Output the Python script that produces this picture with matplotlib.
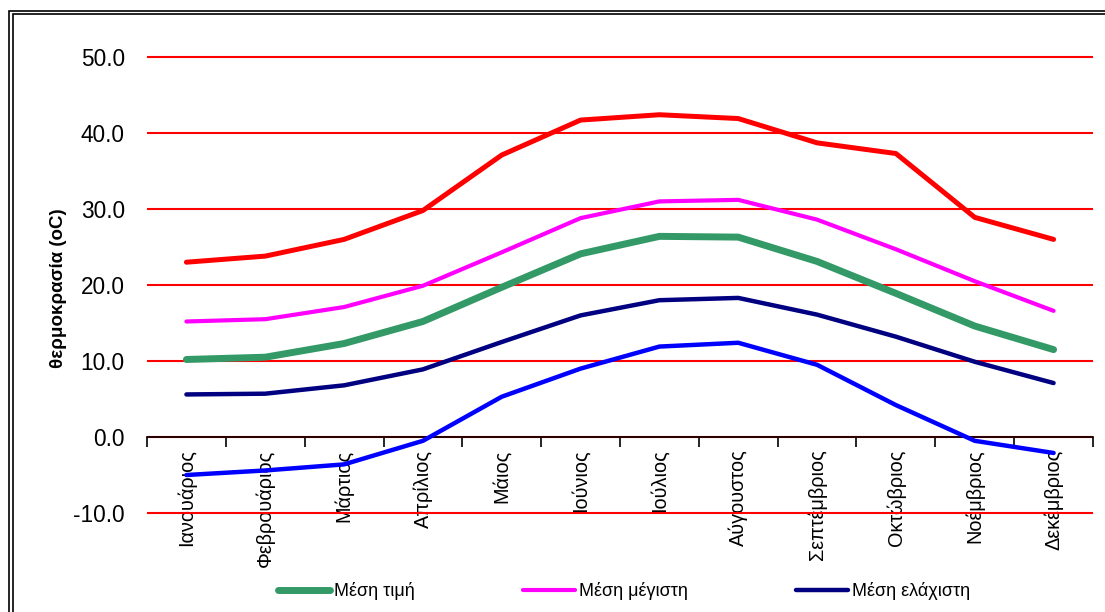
import matplotlib.pyplot as plt
import matplotlib.patches as patches
from matplotlib.ticker import FixedLocator

plt.rcParams['font.family'] = ['Liberation Sans', 'DejaVu Sans']

# μήνες
months = ['Ιανουάριος', 'Φεβρουάριος', 'Μάρτιος', 'Απρίλιος', 'Μάιος', 'Ιούνιος',
          'Ιούλιος', 'Αύγουστος', 'Σεπτέμβριος', 'Οκτώβριος', 'Νοέμβριος', 'Δεκέμβριος']

# θερμοκρασίες (oC)
apolyti_megisti = [23.0, 23.8, 26.0, 29.8, 37.1, 41.7, 42.4, 41.9, 38.7, 37.3, 28.9, 26.0]
mesi_megisti = [15.2, 15.5, 17.1, 19.9, 24.3, 28.8, 31.0, 31.2, 28.6, 24.7, 20.5, 16.6]
mesi_timi = [10.2, 10.5, 12.3, 15.2, 19.7, 24.1, 26.4, 26.3, 23.1, 18.9, 14.6, 11.5]
mesi_elaxisti = [5.6, 5.7, 6.8, 8.9, 12.5, 16.0, 18.0, 18.3, 16.1, 13.2, 9.9, 7.1]
apolyti_elaxisti = [-5.0, -4.4, -3.6, -0.5, 5.3, 9.0, 11.9, 12.4, 9.5, 4.2, -0.5, -2.1]

fig = plt.figure(figsize=(11.05, 6.12), dpi=100)
# άξονες λίγο μεγαλύτεροι ώστε να φαίνονται ολόκληρες οι γραμμές 50 και -10
ax = fig.add_axes([147 / 1105, 1 - 515.3 / 612, 946 / 1105, 460.6 / 612])

x = list(range(len(months)))

# γραμμές
ax.plot(x, apolyti_megisti, color='#ff0000', linewidth=3.6, solid_capstyle='round', zorder=3)
ax.plot(x, mesi_megisti, color='#ff00ff', linewidth=3.0, solid_capstyle='round', zorder=3,
        label='Μέση μέγιστη')
ax.plot(x, mesi_timi, color='#339966', linewidth=5.0, solid_capstyle='round', zorder=3,
        label='Μέση τιμή')
ax.plot(x, mesi_elaxisti, color='#000080', linewidth=3.2, solid_capstyle='round', zorder=3,
        label='Μέση ελάχιστη')
ax.plot(x, apolyti_elaxisti, color='#0000ff', linewidth=3.2, solid_capstyle='round', zorder=3)

ax.set_xlim(-0.5, len(months) - 0.5)
ax.set_ylim(-10.3, 50.3)
ax.set_yticks([-10, 0, 10, 20, 30, 40, 50])
ax.set_yticklabels(['%.1f' % v for v in [-10, 0, 10, 20, 30, 40, 50]])

# κόκκινες γραμμές πλέγματος
ax.yaxis.grid(True, color='#ff0000', linewidth=1.5, zorder=1)
ax.set_axisbelow(True)

for s in ['top', 'right', 'left']:
    ax.spines[s].set_visible(False)
ax.spines['bottom'].set_position(('data', 0))
ax.spines['bottom'].set_linewidth(1.2)
ax.spines['bottom'].set_zorder(2.5)

ax.set_xticks(x)
ax.set_xticklabels(months, rotation=90, va='top', ha='center')
ax.xaxis.set_minor_locator(FixedLocator([i - 0.5 for i in range(len(months) + 1)]))
ax.tick_params(axis='x', which='major', length=0, pad=9, labelsize=14.3)
ax.tick_params(axis='x', which='minor', length=7, width=1.2, direction='out')
ax.tick_params(axis='y', length=0, pad=16, labelsize=16.3)

ax.set_ylabel('θερμοκρασία (oC)', fontsize=13.5, fontweight='bold')
ax.yaxis.set_label_coords(-0.0846, 0.493)

handles, labels = ax.get_legend_handles_labels()
order = [1, 0, 2]
leg = fig.legend([handles[i] for i in order], [labels[i] for i in order],
                 loc='center', bbox_to_anchor=(624 / 1105, 1 - 591 / 612), ncol=3,
                 frameon=False, fontsize=13, handlelength=2.9, handletextpad=0.2,
                 columnspacing=6.0)
for h in leg.legend_handles:
    h.set_solid_capstyle('round')

# διπλό πλαίσιο
fig.patches.append(patches.Rectangle((9 / 1105, -0.1), 1.2, 1 - 11 / 612 + 0.1,
                                     transform=fig.transFigure, fill=False,
                                     edgecolor='black', linewidth=1.2))
fig.patches.append(patches.Rectangle((12.5 / 1105, -0.1), 1.2, 1 - 14 / 612 + 0.1,
                                     transform=fig.transFigure, fill=False,
                                     edgecolor='black', linewidth=1.2))

fig.savefig('out.png', dpi=100)
